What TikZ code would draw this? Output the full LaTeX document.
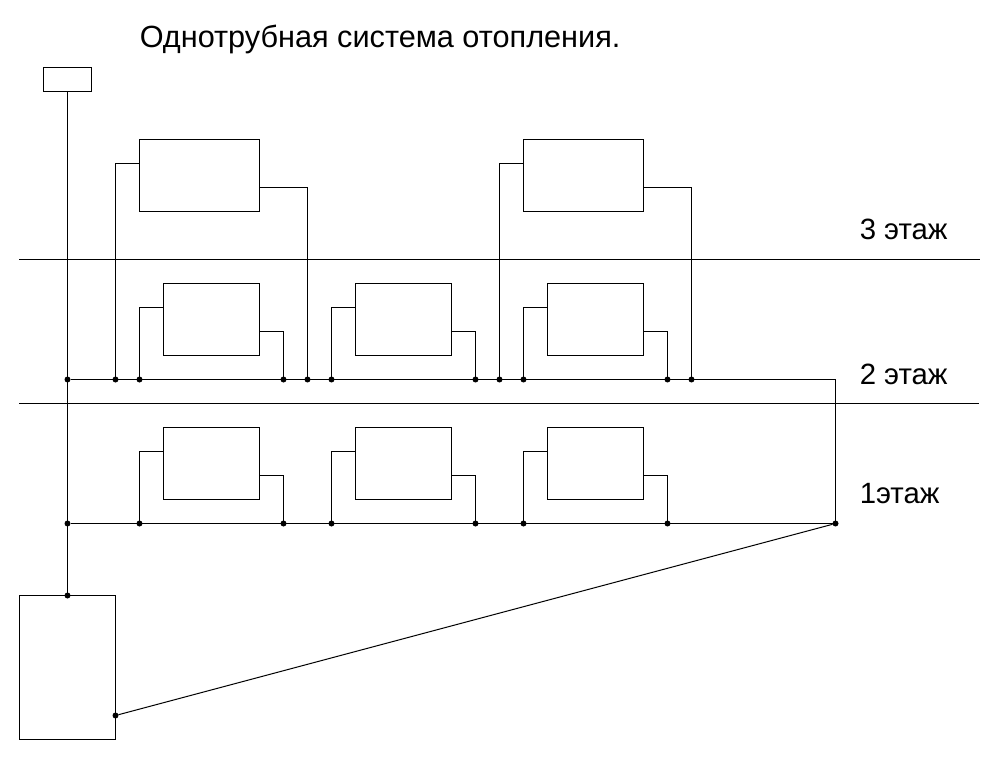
\documentclass[tikz,border=0pt]{standalone}
\usepackage{fontspec}
\setmainfont{Liberation Sans}
\usetikzlibrary{positioning}
\usetikzlibrary{calc}
\tikzset{
  pipe/.style={line width=0.75pt},
  radiator/.style={draw, pipe, rectangle, inner sep=0pt, outer sep=0pt, minimum width=72pt, minimum height=54pt},
  large radiator/.style={radiator, minimum width=90pt},
  tank/.style={draw, pipe, rectangle, inner sep=0pt, outer sep=0pt, minimum width=36pt, minimum height=18pt},
  boiler/.style={draw, pipe, rectangle, inner sep=0pt, outer sep=0pt, minimum width=72pt, minimum height=108pt},
  joint/.style={circle, fill=black, inner sep=0pt, outer sep=0pt, minimum size=4.5pt},
  caption/.style={anchor=base west, inner sep=0pt, font=\fontsize{22pt}{26pt}\selectfont},
  heading/.style={caption, font=\fontsize{23pt}{28pt}\selectfont},
}

\begin{document}
\begin{tikzpicture}[x=0.75pt, y=-0.75pt, node distance=54pt and 72pt]
  \useasboundingbox (-0.5,-0.5) rectangle (998.5,758.5);

  % Texts
  \node[heading] (title) at (139,47.5) {Однотрубная система отопления.};
  \node[caption] (floor3) at (859,239) {3 этаж};
  \node[caption] (floor2) at (859,384) {2 этаж};
  \node[caption] (floor1) at (859,503) {1этаж};

  % Define nodes
  \node[tank] (tank) at (67,79) {};
  \node[boiler] (boiler) at (67,667) {};

  \node[large radiator] (rad_3a) at (199,175) {};
  \node[large radiator] (rad_3b) at (583,175) {};

  \node[radiator] (rad_2a) at (211,319) {};
  \node[radiator, right=of rad_2a] (rad_2b) {};
  \node[radiator, right=of rad_2b] (rad_2c) {};

  \node[radiator, below=of rad_2a] (rad_1a) {};
  \node[radiator, below=of rad_2b] (rad_1b) {};
  \node[radiator, below=of rad_2c] (rad_1c) {};

  % Joints on the upper main
  \node[joint] (up_0) at (67,379) {};
  \node[joint] (up_1) at (115,379) {};
  \node[joint] (up_2) at (139,379) {};
  \node[joint] (up_3) at (283,379) {};
  \node[joint] (up_4) at (307,379) {};
  \node[joint] (up_5) at (331,379) {};
  \node[joint] (up_6) at (475,379) {};
  \node[joint] (up_7) at (499,379) {};
  \node[joint] (up_8) at (523,379) {};
  \node[joint] (up_9) at (667,379) {};
  \node[joint] (up_10) at (691,379) {};
  \coordinate (up_end) at (835,379);

  % Joints on the lower main
  \node[joint] (low_0) at (67,523) {};
  \node[joint] (low_1) at (139,523) {};
  \node[joint] (low_2) at (283,523) {};
  \node[joint] (low_3) at (331,523) {};
  \node[joint] (low_4) at (475,523) {};
  \node[joint] (low_5) at (523,523) {};
  \node[joint] (low_6) at (667,523) {};
  \node[joint] (low_end) at (835,523) {};

  % Joints on the boiler
  \node[joint] (boiler_in) at (67,595) {};
  \node[joint] (boiler_out) at (115,715) {};

  % Floor lines
  \coordinate (slab_2a) at (18.5,259);
  \coordinate (slab_2b) at (979.5,259);
  \coordinate (slab_1a) at (18.5,403);
  \coordinate (slab_1b) at (978.5,403);
  \draw[pipe] (slab_2a) -- (slab_2b);
  \draw[pipe] (slab_1a) -- (slab_1b);

  % Connect nodes
  \draw[pipe] (tank.south) -- (boiler_in);
  \draw[pipe] (up_0) -- (up_end) -- (low_end);
  \draw[pipe] (low_0) -- (low_end);
  \draw[pipe] (boiler_out) -- (low_end);

  \draw[pipe] (up_1) |- ($(rad_3a.north west)!1/3!(rad_3a.south west)$);
  \draw[pipe] (up_4) |- ($(rad_3a.north east)!2/3!(rad_3a.south east)$);
  \draw[pipe] (up_7) |- ($(rad_3b.north west)!1/3!(rad_3b.south west)$);
  \draw[pipe] (up_10) |- ($(rad_3b.north east)!2/3!(rad_3b.south east)$);

  \draw[pipe] (up_2) |- ($(rad_2a.north west)!1/3!(rad_2a.south west)$);
  \draw[pipe] (up_3) |- ($(rad_2a.north east)!2/3!(rad_2a.south east)$);
  \draw[pipe] (up_5) |- ($(rad_2b.north west)!1/3!(rad_2b.south west)$);
  \draw[pipe] (up_6) |- ($(rad_2b.north east)!2/3!(rad_2b.south east)$);
  \draw[pipe] (up_8) |- ($(rad_2c.north west)!1/3!(rad_2c.south west)$);
  \draw[pipe] (up_9) |- ($(rad_2c.north east)!2/3!(rad_2c.south east)$);

  \draw[pipe] (low_1) |- ($(rad_1a.north west)!1/3!(rad_1a.south west)$);
  \draw[pipe] (low_2) |- ($(rad_1a.north east)!2/3!(rad_1a.south east)$);
  \draw[pipe] (low_3) |- ($(rad_1b.north west)!1/3!(rad_1b.south west)$);
  \draw[pipe] (low_4) |- ($(rad_1b.north east)!2/3!(rad_1b.south east)$);
  \draw[pipe] (low_5) |- ($(rad_1c.north west)!1/3!(rad_1c.south west)$);
  \draw[pipe] (low_6) |- ($(rad_1c.north east)!2/3!(rad_1c.south east)$);

\end{tikzpicture}
\end{document}
